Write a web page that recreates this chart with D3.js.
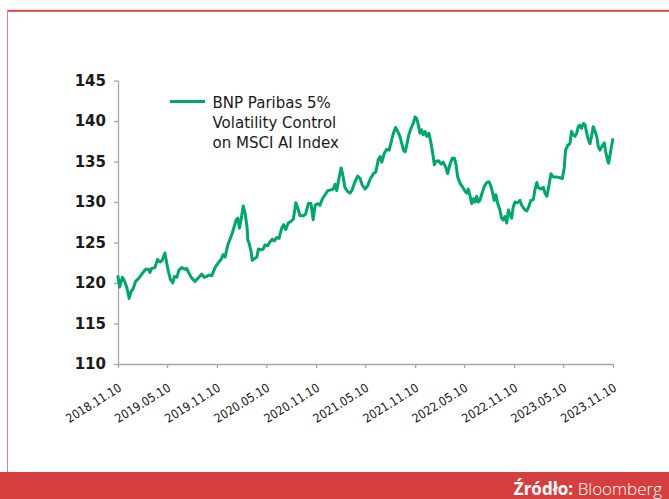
<!DOCTYPE html>
<html>
<head>
<meta charset="utf-8">
<script src="https://cdn.jsdelivr.net/npm/d3@7"></script>
<style>
  html, body { margin: 0; padding: 0; background: #fff; }
  svg { display: block; }
</style>
</head>
<body>
<svg id="chart" width="669" height="499"></svg>
<script>
// ---- data ----
const seriesName = ["BNP Paribas 5%", "Volatility Control", "on MSCI AI Index"];
const dates = [
"2018-11-10","2018-11-16","2018-11-26","2018-12-02","2018-12-12","2018-12-21","2018-12-28",
"2019-01-05","2019-01-14","2019-01-26","2019-02-08","2019-02-20","2019-03-02","2019-03-08","2019-03-14","2019-03-26",
"2019-04-05","2019-04-14","2019-04-22","2019-05-02","2019-05-09","2019-05-15","2019-05-23","2019-05-31",
"2019-06-06","2019-06-15","2019-06-23","2019-07-03","2019-07-15","2019-07-21","2019-07-30","2019-08-09","2019-08-21",
"2019-09-02","2019-09-15","2019-09-24","2019-10-03","2019-10-12","2019-10-22","2019-11-03","2019-11-15","2019-11-25",
"2019-12-03","2019-12-10","2019-12-20","2019-12-28",
"2020-01-06","2020-01-20","2020-01-26","2020-02-01","2020-02-07","2020-02-15","2020-02-22","2020-02-29",
"2020-03-03","2020-03-07","2020-03-15","2020-03-19","2020-03-27","2020-04-05","2020-04-11","2020-04-21","2020-04-29",
"2020-05-05","2020-05-15","2020-05-24","2020-06-01","2020-06-09","2020-06-17","2020-06-26","2020-07-06","2020-07-13",
"2020-07-21","2020-07-30","2020-08-09","2020-08-18","2020-08-27","2020-09-03","2020-09-11","2020-09-24","2020-10-02",
"2020-10-12","2020-10-22","2020-10-30","2020-11-06","2020-11-16","2020-11-24","2020-12-03","2020-12-13","2020-12-23",
"2021-01-04","2021-01-12","2021-01-19","2021-01-25","2021-02-02","2021-02-10","2021-02-16","2021-02-24","2021-03-06",
"2021-03-15","2021-03-23","2021-04-02","2021-04-12","2021-04-21","2021-04-29","2021-05-09","2021-05-19","2021-05-28",
"2021-06-09","2021-06-18","2021-06-27","2021-07-04","2021-07-10","2021-07-19","2021-07-28","2021-08-06","2021-08-13",
"2021-08-22","2021-08-30","2021-09-07","2021-09-15","2021-09-22","2021-09-28","2021-10-04","2021-10-10","2021-10-18",
"2021-10-26","2021-11-03","2021-11-10","2021-11-16","2021-11-22","2021-11-28","2021-12-04","2021-12-10","2021-12-17",
"2021-12-23","2021-12-31",
"2022-01-08","2022-01-14","2022-01-20","2022-01-25","2022-02-04","2022-02-14","2022-02-22","2022-03-03","2022-03-10",
"2022-03-19","2022-03-27","2022-04-04","2022-04-10","2022-04-16","2022-04-25","2022-05-03","2022-05-10","2022-05-19",
"2022-05-25","2022-06-01","2022-06-07","2022-06-13","2022-06-19","2022-06-25","2022-07-01","2022-07-07","2022-07-14",
"2022-07-23","2022-08-01","2022-08-10","2022-08-17","2022-08-23","2022-08-29","2022-09-04","2022-09-11","2022-09-19",
"2022-09-25","2022-10-01","2022-10-08","2022-10-14","2022-10-20","2022-10-26","2022-11-01","2022-11-07","2022-11-14",
"2022-11-20","2022-11-26","2022-12-02","2022-12-08","2022-12-18","2022-12-27",
"2023-01-04","2023-01-11","2023-01-20","2023-01-26","2023-02-02","2023-02-07","2023-02-17","2023-02-26","2023-03-04",
"2023-03-11","2023-03-19","2023-03-26","2023-04-04","2023-04-16","2023-04-28","2023-05-07","2023-05-14","2023-05-19",
"2023-05-27","2023-06-04","2023-06-10","2023-06-16","2023-06-23","2023-06-29","2023-07-05","2023-07-11","2023-07-17",
"2023-07-24","2023-07-30","2023-08-05","2023-08-11","2023-08-17","2023-08-23","2023-08-29","2023-09-05","2023-09-11",
"2023-09-17","2023-09-23","2023-10-01","2023-10-09","2023-10-14","2023-10-22","2023-10-25","2023-11-02","2023-11-09"
];
const values = [
120.8,119.5,120.7,120.4,119.5,118.1,118.9,
119.3,120.2,120.6,121.2,121.7,121.7,121.3,121.8,121.9,
122.9,122.6,122.8,123.7,122.4,121.4,120.4,120.0,
120.8,120.7,121.6,121.9,121.7,121.8,121.2,120.6,120.2,
120.6,121.1,120.7,120.8,121.0,120.9,121.9,122.5,122.9,
123.5,123.2,124.7,125.4,
126.2,127.8,128.0,126.8,127.8,129.5,128.6,126.9,
125.3,125.0,123.9,122.8,123.0,123.2,124.2,124.1,124.2,
124.7,124.6,125.1,125.4,125.2,125.6,125.5,126.8,127.2,
126.6,127.4,127.6,127.9,129.9,129.3,128.3,128.3,128.5,
129.8,129.8,127.8,129.6,129.8,129.6,130.4,130.9,131.4,
131.5,131.6,132.2,131.4,132.9,134.2,133.4,131.8,131.3,
131.1,131.5,132.5,133.2,132.9,132.1,131.6,132.0,132.8,
133.5,133.7,135.2,135.6,134.9,136.0,136.5,136.4,137.3,
138.5,139.2,138.7,138.1,137.2,136.4,136.2,137.0,138.3,
139.1,139.7,140.5,140.3,139.5,138.5,138.9,138.3,138.7,
138.1,138.5,
137.2,136.0,134.6,135.0,135.1,134.7,134.9,134.3,133.5,
134.7,135.4,135.4,134.6,133.1,132.3,131.9,131.5,131.1,
131.6,130.7,129.8,130.4,130.0,130.7,130.0,130.2,131.0,
131.9,132.4,132.5,131.9,131.1,130.2,130.9,129.8,129.0,
128.0,127.8,128.2,127.4,129.0,128.4,128.0,129.4,130.0,
129.9,130.0,130.2,129.6,129.1,128.9,
129.5,130.2,130.3,131.5,132.4,131.8,131.6,131.8,131.1,
130.7,132.1,133.5,133.1,133.1,133.0,132.9,134.2,136.4,
137.0,137.2,138.7,138.3,138.1,138.5,139.3,139.5,139.1,
139.7,139.5,138.5,137.7,137.2,138.1,139.3,138.7,138.1,
136.8,136.4,136.9,137.3,136.2,135.0,134.8,136.4,137.7
];
const xTickLabels = ["2018.11.10","2019.05.10","2019.11.10","2020.05.10","2020.11.10","2021.05.10",
                     "2021.11.10","2022.05.10","2022.11.10","2023.05.10","2023.11.10"];
const yTicks = [110,115,120,125,130,135,140,145];
const sourceBold = "Źródło:";
const sourceText = "Bloomberg";

// ---- drawing ----
const svg = d3.select("#chart");
const parseDash = d3.timeParse("%Y-%m-%d");
const parseDot = d3.timeParse("%Y.%m.%d");
const fmtDot = d3.timeFormat("%Y.%m.%d");
const tickDates = xTickLabels.map(parseDot);
const data = dates.map((d, i) => ({ date: parseDash(d), value: values[i] }));

const x = d3.scaleTime().domain([tickDates[0], tickDates[tickDates.length - 1]]).range([118, 613]);
const y = d3.scaleLinear().domain([110, 145]).range([364, 80.5]);

// frame
svg.append("line").attr("x1", 7).attr("x2", 669).attr("y1", 9).attr("y2", 9)
  .attr("stroke", "#e4e4e4").attr("stroke-width", 1);
svg.append("line").attr("x1", 7).attr("x2", 669).attr("y1", 10.8).attr("y2", 10.8)
  .attr("stroke", "#e0393e").attr("stroke-width", 1.8);
svg.append("line").attr("x1", 7.5).attr("x2", 7.5).attr("y1", 10).attr("y2", 472)
  .attr("stroke", "#ea7a7c").attr("stroke-width", 1);
svg.append("rect").attr("x", 0).attr("y", 472).attr("width", 669).attr("height", 27)
  .attr("fill", "#d5403e");

// y axis
const yAxis = svg.append("g").attr("transform", "translate(118,0)")
  .call(d3.axisLeft(y).tickValues(yTicks).tickSize(4).tickPadding(8).tickSizeOuter(0));
yAxis.select(".domain").attr("stroke", "#a6a6a6").attr("stroke-width", 1.3);
yAxis.selectAll(".tick line").attr("stroke", "#a6a6a6").attr("stroke-width", 1.3);
yAxis.selectAll(".tick text")
  .attr("fill", "#1a1a1a")
  .style("font-family", "'DejaVu Sans', sans-serif")
  .style("font-size", "15px")
  .style("font-weight", "bold");

// x axis
const xAxis = svg.append("g").attr("transform", "translate(0,364)")
  .call(d3.axisBottom(x).tickValues(tickDates).tickFormat(fmtDot).tickSize(4).tickSizeOuter(0));
xAxis.select(".domain").attr("stroke", "#a6a6a6").attr("stroke-width", 1.3);
xAxis.selectAll(".tick line").attr("stroke", "#a6a6a6").attr("stroke-width", 1.3);
xAxis.selectAll(".tick text")
  .attr("fill", "#111111")
  .attr("y", 0).attr("dy", 0)
  .attr("text-anchor", "end")
  .attr("transform", "translate(4,26) rotate(-32)")
  .style("font-family", "'DejaVu Sans Condensed', 'DejaVu Sans', sans-serif")
  .style("font-stretch", "condensed")
  .style("font-size", "12.2px");

// line
const line = d3.line().x(d => x(d.date)).y(d => y(d.value)).curve(d3.curveLinear);
svg.append("path").datum(data)
  .attr("d", line)
  .attr("fill", "none")
  .attr("stroke", "#00a76a")
  .attr("stroke-width", 3)
  .attr("stroke-linejoin", "round")
  .attr("stroke-linecap", "round");

// legend
svg.append("line").attr("x1", 170).attr("x2", 205).attr("y1", 101.5).attr("y2", 101.5)
  .attr("stroke", "#00a76a").attr("stroke-width", 3);
const legText = svg.append("text")
  .attr("x", 212.5).attr("y", 108.3)
  .attr("fill", "#1a1a1a")
  .style("font-family", "'DejaVu Sans', sans-serif")
  .style("font-size", "15px");
seriesName.forEach((s, i) => {
  legText.append("tspan").attr("x", 212.5).attr("dy", i === 0 ? 0 : 20).text(s);
});

// source
const src = svg.append("text")
  .attr("x", 662).attr("y", 495)
  .attr("text-anchor", "end")
  .attr("fill", "#ffffff")
  .style("font-family", "'Open Sans', sans-serif")
  .style("font-size", "17px");
src.append("tspan").style("font-weight", "700").text(sourceBold + " ");
src.append("tspan").style("font-weight", "300").text(sourceText);
</script>
</body>
</html>
